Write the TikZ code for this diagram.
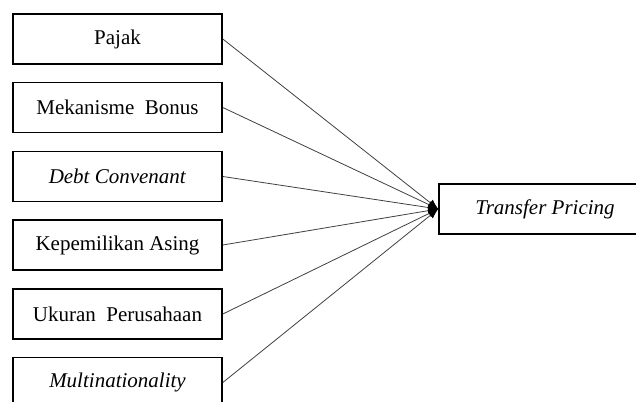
\documentclass[tikz,border=0pt]{standalone}
\usepackage{fontspec}
\setmainfont{Liberation Serif}
\usetikzlibrary{arrows.meta}

\begin{document}
\begin{tikzpicture}[x=1pt,y=-1pt,
  var/.style={draw,line width=1.6pt,minimum width=209pt,minimum height=50pt,
    inner sep=0pt,font=\fontsize{21}{24}\selectfont},
  link/.style={draw=black!75,line width=0.8pt,-{Latex[length=10pt,width=8pt,black]}}]
\useasboundingbox (0,0) rectangle (636,401);
\node[var] (pajak) at (117.5,39) {Pajak};
\node[var] (bonus) at (117.5,107.5) {Mekanisme\ \ Bonus};
\node[var] (debt) at (117.5,176.5) {\textit{Debt Convenant}};
\node[var] (asing) at (117.5,245) {Kepemilikan Asing};
\node[var] (ukuran) at (117.5,314) {Ukuran\ \ Perusahaan};
\node[var] (multi) at (117.5,382.5) {\textit{Multinationality}};
\node[var,minimum width=212pt] (tp) at (545,209) {\textit{Transfer Pricing}};
% pengaruh ke transfer pricing
\draw[link] (pajak.east) -- (tp.west);
\draw[link] (bonus.east) -- (tp.west);
\draw[link] (debt.east) -- (tp.west);
\draw[link] (asing.east) -- (tp.west);
\draw[link] (ukuran.east) -- (tp.west);
\draw[link] (multi.east) -- (tp.west);
\end{tikzpicture}
\end{document}
